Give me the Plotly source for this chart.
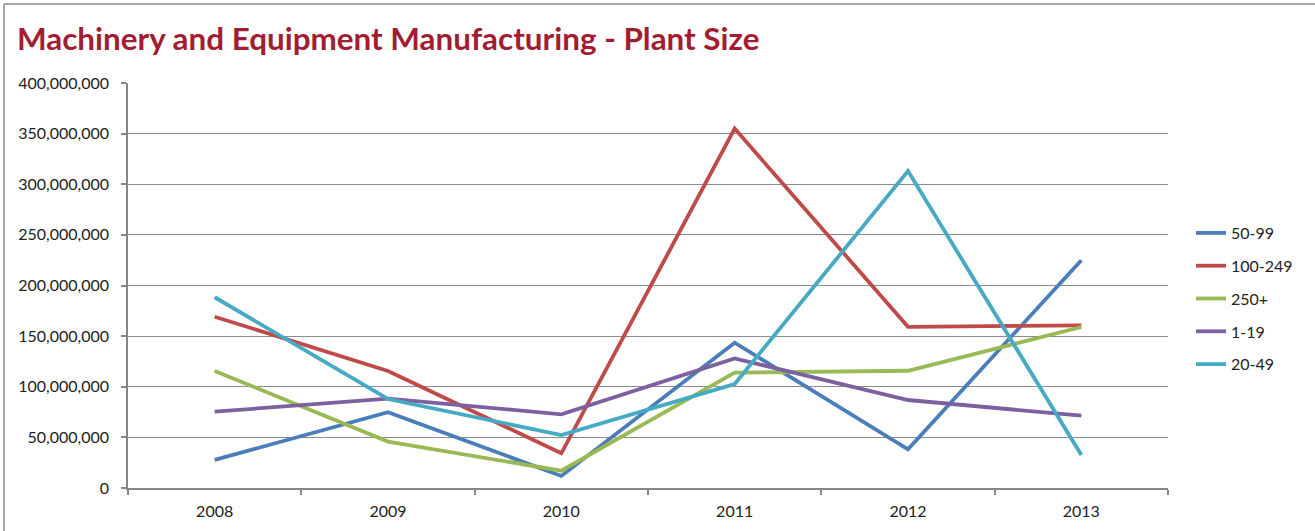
import plotly.graph_objects as go

years = ["2008", "2009", "2010", "2011", "2012", "2013"]
series_names = ["50-99", "100-249", "250+", "1-19", "20-49"]
v_50_99 = [27.7e6, 74.8e6, 11.9e6, 143.5e6, 38.2e6, 225e6]
v_100_249 = [169.2e6, 115.6e6, 34.3e6, 355e6, 159.2e6, 160.7e6]
v_250p = [115.6e6, 45.8e6, 17.1e6, 113.9e6, 115.8e6, 159e6]
v_1_19 = [75.4e6, 88.3e6, 72.8e6, 128e6, 86.9e6, 71.4e6]
v_20_49 = [188.4e6, 87.9e6, 52.3e6, 102.7e6, 313e6, 32.6e6]
colors = ["#4A7EBB", "#BE4B48", "#98B954", "#7D60A0", "#46AAC5"]

all_values = [v_50_99, v_100_249, v_250p, v_1_19, v_20_49]

FONT = "Lato, 'Open Sans', sans-serif"

fig = go.Figure()
for name, vals, col in zip(series_names, all_values, colors):
    fig.add_trace(go.Scatter(x=years, y=vals, name=name, mode="lines", legendgroup=name,
                             line=dict(color=col, width=3.8)))

W, H = 1315, 531
L, R, T, B = 128, 1168, 83, 488
fig.update_layout(
    width=W, height=H,
    margin=dict(l=L, r=W - R, t=T, b=H - B, autoexpand=False),
    paper_bgcolor="white", plot_bgcolor="white",
    font=dict(family=FONT, size=16, color="#222"),
    title=dict(text="<b>Machinery and Equipment Manufacturing - Plant Size</b>",
               x=17 / W, xanchor="left", y=1 - 39 / H, yanchor="middle",
               font=dict(size=31.4, color="#A31D32", family=FONT)),
    showlegend=True,
    legend=dict(x=(1191 - L) / (R - L), xanchor="left", y=(B - 216) / (B - T), yanchor="top",
                font=dict(size=16, color="#222"), tracegroupgap=9, itemwidth=30,
                bgcolor="rgba(0,0,0,0)"),
)
fig.update_xaxes(
    type="category", range=[-0.5, 5.5], tickson="boundaries",
    ticks="outside", ticklen=5, tickcolor="#868686", tickwidth=1.5,
    showline=True, linecolor="#868686", linewidth=2,
    showgrid=False, tickfont=dict(size=16, color="#222"), ticklabelstandoff=8,
)
fig.update_yaxes(
    range=[0, 400e6], dtick=50e6, tickformat=",d",
    ticks="outside", ticklen=5, tickcolor="#868686", tickwidth=1.5,
    showline=True, linecolor="#868686", linewidth=1.5,
    showgrid=True, gridcolor="#8C8C8C", gridwidth=1.3, zeroline=False,
    tickfont=dict(size=16, color="#222"), ticklabelstandoff=9,
)

# outer chart border (top and left visible)
bx = (4 - L) / (R - L)
by = (B - 4) / (B - T)
fig.add_shape(type="line", xref="paper", yref="paper", x0=bx, x1=bx, y0=-0.2, y1=by,
              line=dict(color="#8C8C8C", width=1.5))
fig.add_shape(type="line", xref="paper", yref="paper", x0=bx, x1=1.5, y0=by, y1=by,
              line=dict(color="#8C8C8C", width=1.5))

fig.write_html("out.html", config={"displayModeBar": False},
               post_script="document.body.style.margin='0';")
